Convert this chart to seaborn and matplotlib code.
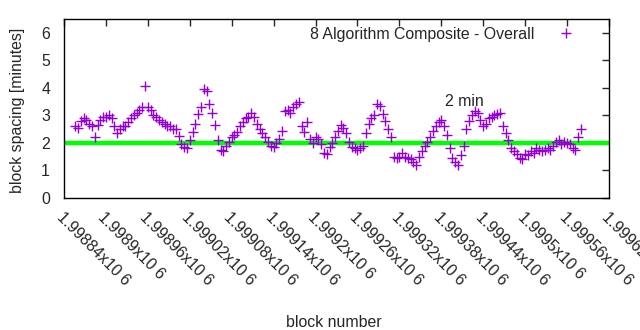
import numpy as np
import pandas as pd
import matplotlib
matplotlib.use("Agg")
import matplotlib.pyplot as plt
import seaborn as sns
from matplotlib.lines import Line2D

# ---- data ----
start_block = 1998856
block_step = 4
spacing = [
    2.6, 2.55, 2.8, 2.9, 2.85, 2.7, 2.6, 2.2, 2.65, 2.85,
    2.95, 2.95, 3.0, 2.9, 2.6, 2.35, 2.5, 2.6, 2.6, 2.75,
    2.9, 3.0, 3.1, 3.2, 3.3, 4.05, 3.3, 3.2, 3.0, 2.95,
    2.85, 2.75, 2.7, 2.6, 2.6, 2.5, 2.5, 2.25, 1.95, 1.85,
    1.8, 2.1, 2.4, 2.7, 3.05, 3.3, 3.95, 3.9, 3.4, 3.1,
    2.65, 2.1, 1.75, 1.7, 1.9, 2.05, 2.2, 2.3, 2.4, 2.6,
    2.75, 2.9, 2.95, 3.1, 2.95, 2.7, 2.5, 2.35, 2.2, 2.05,
    1.9, 1.85, 2.0, 2.15, 2.45, 3.15, 3.2, 3.1, 3.3, 3.4,
    3.5, 2.6, 2.4, 2.75, 2.15, 2.0, 2.2, 2.15, 1.95, 1.65,
    1.6, 1.85, 2.0, 2.2, 2.45, 2.65, 2.55, 2.35, 2.05, 1.85,
    1.8, 1.75, 1.8, 1.9, 2.35, 2.7, 2.9, 3.0, 3.4, 3.35,
    3.05, 2.8, 2.5, 2.2, 1.5, 1.45, 1.5, 1.65, 1.5, 1.45,
    1.4, 1.3, 1.2, 1.5, 1.7, 1.9, 2.05, 2.2, 2.45, 2.6,
    2.75, 2.85, 2.6, 2.3, 1.8, 1.45, 1.3, 1.2, 1.55, 1.9,
    2.5, 2.8, 3.0, 3.15, 3.1, 2.85, 2.6, 2.7, 2.9, 2.95,
    3.0, 3.05, 3.1, 2.6, 2.35, 2.1, 1.8, 1.7, 1.6, 1.45,
    1.4, 1.6, 1.55, 1.7, 1.65, 1.8, 1.75, 1.7, 1.75, 1.8,
    1.75, 1.9, 2.05, 2.1, 1.95, 2.05, 2.0, 1.95, 1.8, 1.75,
    2.2, 2.5,
]
blocks = start_block + block_step * np.arange(len(spacing))
target_minutes = 2
x_ticks = [1998840 + 60 * k for k in range(14)]
x_tick_labels = ["1.99884x10 6", "1.9989x10 6", "1.99896x10 6", "1.99902x10 6",
                 "1.99908x10 6", "1.99914x10 6", "1.9992x10 6", "1.99926x10 6",
                 "1.99932x10 6", "1.99938x10 6", "1.99944x10 6", "1.9995x10 6",
                 "1.99956x10 6", "1.99962x10 6"]
series_label = "8 Algorithm Composite - Overall"

df = pd.DataFrame({"block": blocks, "spacing": spacing})

sns.set_style("white")
plt.rcParams['font.family'] = ['Liberation Sans', 'DejaVu Sans']
FS = 11.4

fig = plt.figure(figsize=(6.4, 3.3), dpi=100)
ax = fig.add_axes([64/640, 1-198/330, (609-64)/640, (198-19)/330])

ax.axhline(target_minutes, color="#00ff00", lw=3.2, zorder=1)
sns.scatterplot(data=df, x="block", y="spacing", marker="+", s=55,
                color="#9400d3", linewidth=1.0, ax=ax, zorder=2,
                legend=False)

ax.set_xlim(1998840, 1999620)
ax.set_ylim(0, 6.5)
ax.set_yticks(range(7))
ax.set_yticklabels([str(v) for v in range(7)], fontsize=FS)
ax.set_xticks(x_ticks)
ax.set_xticklabels(x_tick_labels, rotation=-45, ha="left", va="top",
                   rotation_mode="anchor", fontsize=FS)
ax.tick_params(direction="in", length=5, width=1, top=True, right=True,
               labeltop=False, labelright=False)
ax.tick_params(axis="y", pad=10)
ax.tick_params(axis="x", pad=8)
for s in ax.spines.values():
    s.set_visible(True)
    s.set_color("black")
    s.set_linewidth(1.0)

ax.set_xlabel("block number", fontsize=FS)
ax.set_ylabel("block spacing [minutes]", fontsize=FS)
ax.xaxis.set_label_coords((334-64)/545, -(315-198)/179)
ax.yaxis.set_label_coords((25-64)/545, (198-110)/179)

ax.text(1999386, 3.5, "2 min", fontsize=FS, va="center", ha="left")

h = Line2D([], [], marker="+", ls="none", color="#9400d3", markersize=7, mew=1.0)
ax.legend([h], [series_label], loc="upper right", markerfirst=False,
          frameon=False, fontsize=FS, bbox_to_anchor=(0.97, 1.02),
          handletextpad=1.0, borderaxespad=0.3)

fig.savefig("out.png", dpi=100)
